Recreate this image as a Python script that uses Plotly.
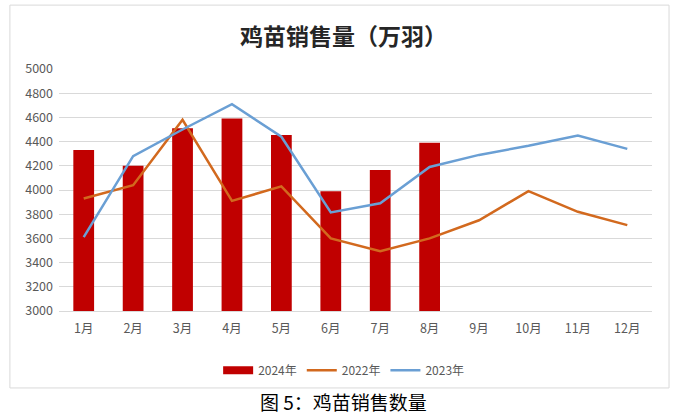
import plotly.graph_objects as go

months = ["1月", "2月", "3月", "4月", "5月", "6月", "7月", "8月", "9月", "10月", "11月", "12月"]
sales_2024 = [4330, 4200, 4510, 4590, 4455, 3990, 4165, 4390]
sales_2022 = [3930, 4040, 4580, 3910, 4030, 3600, 3495, 3600, 3750, 3990, 3820, 3710]
sales_2023 = [3610, 4280, 4500, 4710, 4440, 3815, 3890, 4190, 4290, 4365, 4450, 4340]
y_ticks = [3000, 3200, 3400, 3600, 3800, 4000, 4200, 4400, 4600, 4800, 5000]

font = "Noto Sans CJK SC"

fig = go.Figure()
fig.add_trace(go.Bar(x=months[:len(sales_2024)], y=sales_2024, name="2024年", showlegend=False,
                     marker=dict(color="#c00000", line=dict(width=0))))
# legend-only swatch for the bar series (wide rectangle like the reference)
fig.add_trace(go.Scatter(x=[None], y=[None], name="2024年", mode="lines",
                         line=dict(color="#c00000", width=8)))
fig.add_trace(go.Scatter(x=months, y=sales_2022, name="2022年", mode="lines",
                         line=dict(color="#d2691e", width=2.5)))
fig.add_trace(go.Scatter(x=months, y=sales_2023, name="2023年", mode="lines",
                         line=dict(color="#6a9fd4", width=2.5)))

fig.update_layout(
    width=676, height=416,
    margin=dict(l=59, r=24, t=69, b=105),
    paper_bgcolor="white", plot_bgcolor="white",
    bargap=0.58,
    font=dict(family=font, size=12, color="#595959"),
    showlegend=True,
    legend=dict(orientation="h", x=0.48, xanchor="center", y=-0.245, yanchor="middle",
                font=dict(size=12, color="#595959"), itemwidth=30, tracegroupgap=0),
    xaxis=dict(categoryorder="array", categoryarray=months, showline=True,
               linecolor="#d9d9d9", linewidth=1, ticks="", showgrid=False,
               ticklabelstandoff=6,
               tickfont=dict(size=12.5, color="#595959"), range=[-0.5, 11.5]),
    yaxis=dict(range=[3000, 5000], tickvals=y_ticks, showgrid=True, gridcolor="#d9d9d9",
               gridwidth=1, zeroline=False, showline=False, ticks="",
               ticklabelstandoff=5,
               tickfont=dict(size=12.5, color="#595959")),
    shapes=[dict(type="rect", xref="paper", yref="paper", x0=-0.0828, x1=1.0287,
                 y0=-0.318, y1=1.264, line=dict(color="#d9d9d9", width=1), layer="below")],
    annotations=[
        dict(text="<b>鸡苗销售量（万羽）</b>", xref="paper", yref="paper", x=0.48, y=1.14,
             showarrow=False, font=dict(family=font, size=23, color="#262626"),
             xanchor="center", yanchor="middle"),
        dict(text="图 5：鸡苗销售数量", xref="paper", yref="paper", x=0.48, y=-0.372,
             showarrow=False, font=dict(family=font, size=19, color="#000000"),
             xanchor="center", yanchor="middle"),
    ],
)

fig.write_html("out.html")
